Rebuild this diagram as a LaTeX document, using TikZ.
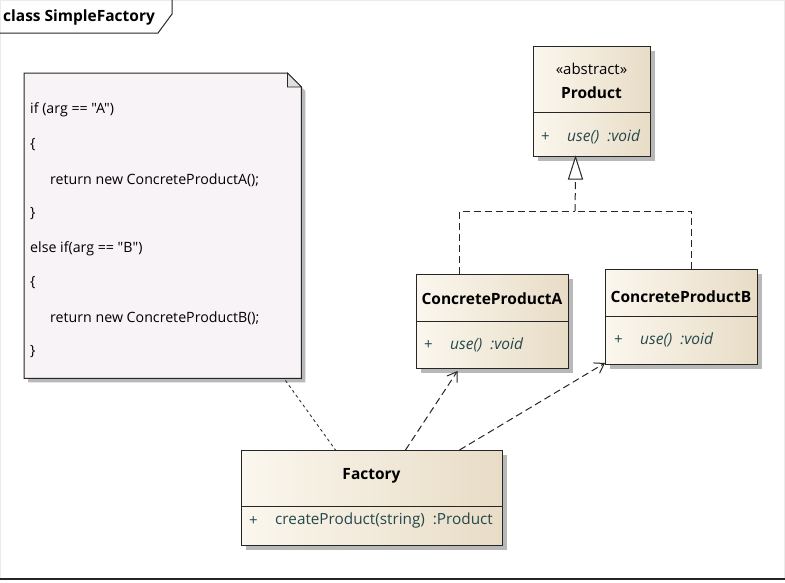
\documentclass[tikz,border=0pt]{standalone}
\usepackage{fontspec}
\setmainfont{Open Sans}
\newfontfamily\codefont{Open Sans}
\usetikzlibrary{arrows.meta,shadows,calc}
\definecolor{boxL}{HTML}{FBF7EE}
\definecolor{boxR}{HTML}{E8DCC6}
\definecolor{noteC}{HTML}{F7F3F6}
\definecolor{memC}{HTML}{24484A}
\definecolor{shadowC}{HTML}{B8B8B8}
\begin{document}
\begin{tikzpicture}[x=1pt,y=-1pt,
  cls/.style={draw=black!85, line width=1pt, left color=boxL, right color=boxR,
    anchor=north west, inner sep=0,
    drop shadow={shadow xshift=4pt, shadow yshift=-4pt, fill=shadowC, opacity=1}},
  divider/.style={draw=black!85, line width=0.8pt},
  ttl/.style={font=\bfseries\fontsize{15.5}{18}\selectfont, inner sep=0},
  stereo/.style={font=\fontsize{15}{18}\selectfont, inner sep=0},
  plus/.style={font=\fontsize{15}{18}\selectfont, text=memC, inner sep=0, anchor=west},
  mem/.style={font=\itshape\fontsize{15.5}{18}\selectfont, text=memC, inner sep=0, anchor=west},
  memup/.style={font=\fontsize{15.3}{18}\selectfont, text=memC, inner sep=0, anchor=west},
  code/.style={font=\codefont\fontsize{14.2}{17}\selectfont, inner sep=0, anchor=west},
  dep/.style={draw=black!85, line width=1pt, dash pattern=on 7pt off 4pt,
    -{Straight Barb[length=9pt,width=12pt,line width=1pt]}},
  real/.style={draw=black!85, line width=1pt, dash pattern=on 7pt off 4pt},
  notelink/.style={draw=black!80, line width=0.9pt, dash pattern=on 3pt off 3pt}]

\useasboundingbox (0,0) rectangle (785,582);

% frame
\draw[black!8, line width=0.6pt] (0.5,0.5) rectangle (784.5,579);
\draw[black!85, line width=2pt] (0,579) -- (785,579);
\draw[black!85, line width=1pt] (0,33) -- (158,33) -- (172,14) -- (172,0);
\node[font=\bfseries\fontsize{15.5}{18}\selectfont, anchor=west, inner sep=0] (frametitle) at (3,17) {class SimpleFactory};

% note
\node[anchor=north west, minimum width=277pt, minimum height=305pt, inner sep=0] (note) at (24,73) {};
\fill[shadowC] ([shift={(4pt,-4pt)}]note.north west) -- ([shift={(-10pt,-4pt)}]note.north east)
  -- ([shift={(4pt,-18pt)}]note.north east) -- ([shift={(4pt,-4pt)}]note.south east)
  -- ([shift={(4pt,-4pt)}]note.south west) -- cycle;
\filldraw[fill=noteC, draw=black!85, line width=1pt] (note.north west) -- ([xshift=-14pt]note.north east)
  -- ([yshift=-14pt]note.north east) -- (note.south east) -- (note.south west) -- cycle;
\filldraw[fill=black!12, draw=black!85, line width=0.8pt] ([xshift=-14pt]note.north east)
  -- ([xshift=-14pt,yshift=-14pt]note.north east) -- ([yshift=-14pt]note.north east) -- cycle;
\node[code] (l1) at (30,110) {if (arg == "A")};
\node[code] (l2) at (30,145) {\{};
\node[code] (l3) at (50,180) {return new ConcreteProductA();};
\node[code] (l4) at (30,214) {\}};
\node[code] (l5) at (30,249) {else if(arg == "B")};
\node[code] (l6) at (30,283) {\{};
\node[code] (l7) at (50,318) {return new ConcreteProductB();};
\node[code] (l8) at (30,352) {\}};

% Product
\node[cls, minimum width=117pt, minimum height=110pt] (prod) at (533,46) {};
\draw[divider] (prod.west |- 0,112) -- (prod.east |- 0,112);
\node[stereo] (prodst) at (591.5,69) {«abstract»};
\node[ttl] (prodt) at (591.5,93) {Product};
\node[plus] (prodp) at (541,137) {+};
\node[mem] (prodm) at (567,137) {use()\ \ :void};

% ConcreteProductA
\node[cls, minimum width=152pt, minimum height=94pt] (cpa) at (416,274) {};
\draw[divider] (cpa.west |- 0,321) -- (cpa.east |- 0,321);
\node[ttl] (cpat) at (492,299) {ConcreteProductA};
\node[plus] (cpap) at (424,345) {+};
\node[mem] (cpam) at (450,345) {use()\ \ :void};

% ConcreteProductB
\node[cls, minimum width=152pt, minimum height=95pt] (cpb) at (605,269) {};
\draw[divider] (cpb.west |- 0,316) -- (cpb.east |- 0,316);
\node[ttl] (cpbt) at (681,297) {ConcreteProductB};
\node[plus] (cpbp) at (614,340) {+};
\node[mem] (cpbm) at (640,340) {use()\ \ :void};

% Factory
\node[cls, minimum width=261pt, minimum height=95pt] (fac) at (241,450) {};
\draw[divider] (fac.west |- 0,506) -- (fac.east |- 0,506);
\node[ttl] (fact) at (371.5,476) {Factory};
\node[plus] (facp) at (249,521) {+};
\node[memup] (facm) at (275,521) {createProduct(string)\ \ :Product};

% realization
\coordinate (jn) at (575,211);
\draw[real] ([xshift=-33pt]cpa.north) |- (jn);
\draw[real] ([xshift=10pt]cpb.north) |- (jn);
\draw[real] (jn) -- ([xshift=-16.5pt,yshift=-22pt]prod.south);
\draw[black!85, line width=1pt, fill=white, line join=miter]
  ([xshift=-16.5pt]prod.south) -- ([xshift=-23.5pt,yshift=-22pt]prod.south)
  -- ([xshift=-9.5pt,yshift=-22pt]prod.south) -- cycle;

% dependencies
\draw[dep] ([xshift=33.5pt]fac.north) -- ([xshift=-35pt,yshift=-2pt]cpa.south);
\draw[dep] ([xshift=87.5pt]fac.north) -- ([yshift=2pt]cpb.south west);

% note link
\draw[notelink] ([xshift=-16pt,yshift=-2pt]note.south east) -- ([xshift=-36.5pt]fac.north);
\end{tikzpicture}
\end{document}
